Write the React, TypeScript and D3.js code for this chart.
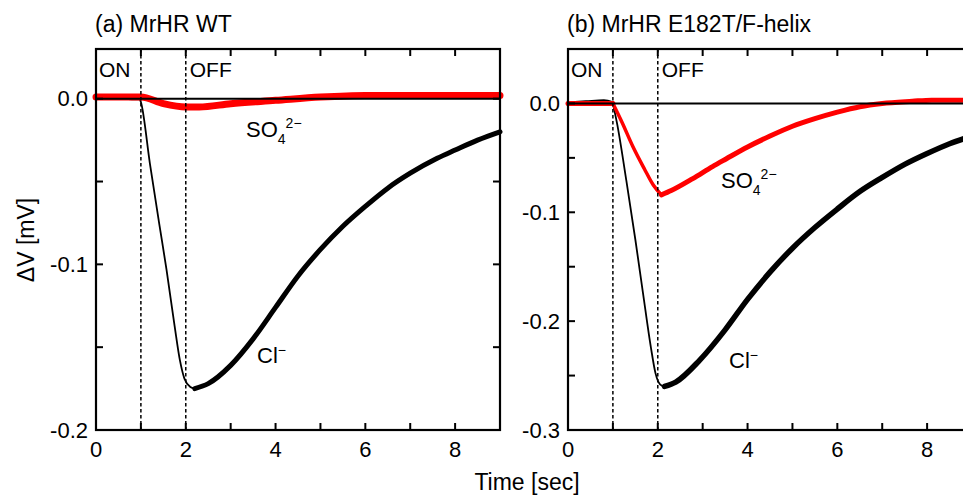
import React, { useEffect, useRef } from "react";
import * as d3 from "d3";

// time axis (sec)
const timeTicks = [0, 1, 2, 3, 4, 5, 6, 7, 8, 9];
const timeLabels = [0, 2, 4, 6, 8];
const stimulus = [1, 2]; // light ON / OFF

// (a) MrHR WT
const wtYTicks = [0, -0.05, -0.1, -0.15, -0.2];
const wtYLabels = [0, -0.1, -0.2];
const wtClBase = [[0, 0.0], [0.4, 0.001], [0.8, 0.0], [0.97, 0.0]];
const wtClFall = [[0.97, 0.0], [1.0, -0.002], [1.2, -0.039], [1.4, -0.074], [1.57, -0.103], [1.75, -0.137], [1.87, -0.158], [1.97, -0.169], [2.1, -0.174], [2.2, -0.175]];
const wtClRecovery = [[2.2, -0.175], [2.5, -0.172], [3.0, -0.161], [3.5, -0.145], [4.0, -0.126], [4.5, -0.107], [5.0, -0.091], [5.5, -0.077], [6.0, -0.065], [6.5, -0.054], [7.0, -0.045], [7.6, -0.036], [8.0, -0.031], [8.5, -0.025], [9.0, -0.020]];
const wtSO4 = [[0, 0.001], [0.5, 0.001], [1.0, 0.001], [1.5, -0.003], [2.0, -0.005], [2.3, -0.005], [3.0, -0.003], [4.0, -0.001], [5.0, 0.001], [6.0, 0.002], [7.0, 0.002], [8.0, 0.002], [9.0, 0.002]];

// (b) MrHR E182T/F-helix
const mutYTicks = [0, -0.05, -0.1, -0.15, -0.2, -0.25, -0.3];
const mutYLabels = [0, -0.1, -0.2, -0.3];
const mutClBase = [[0, 0.0], [0.4, 0.001], [0.8, 0.002], [1.0, 0.0]];
const mutClFall = [[1.0, 0.0], [1.1, -0.02], [1.3, -0.071], [1.5, -0.125], [1.67, -0.174], [1.85, -0.225], [1.95, -0.248], [2.05, -0.258], [2.15, -0.26]];
const mutClRecovery = [[2.15, -0.26], [2.4, -0.256], [2.93, -0.236], [3.5, -0.208], [4.0, -0.180], [4.5, -0.155], [5.0, -0.133], [5.5, -0.114], [6.0, -0.097], [6.5, -0.081], [7.0, -0.068], [7.5, -0.056], [8.0, -0.046], [8.5, -0.037], [9.0, -0.030]];
const mutSO4Base = [[0, 0.0], [0.5, 0.0], [1.0, 0.0]];
const mutSO4Fall = [[1.0, 0.0], [1.2, -0.017], [1.45, -0.040], [1.7, -0.060], [1.9, -0.075], [2.08, -0.084]];
const mutSO4Recovery = [[2.08, -0.084], [2.3, -0.080], [2.78, -0.069], [3.22, -0.058], [3.52, -0.051], [4.0, -0.040], [4.5, -0.030], [5.0, -0.021], [5.5, -0.014], [6.0, -0.008], [6.5, -0.003], [7.0, 0.000], [7.67, 0.002], [8.1, 0.003], [9.0, 0.003]];

const FONT = "Arial, 'Liberation Sans', Helvetica, sans-serif";

const drawPanel = (svg, p) => {
  const x = d3.scaleLinear().domain([0, 9]).range([p.left, p.left + 404]);
  const y = d3.scaleLinear().domain(p.yDomain).range([430, 49]);
  const g = svg.append("g");

  const line = d3
    .line()
    .x(d => x(d[0]))
    .y(d => y(d[1]))
    .curve(d3.curveMonotoneX);

  p.traces.forEach(t => {
    g.append("path")
      .datum(t.data)
      .attr("fill", "none")
      .attr("stroke", t.color)
      .attr("stroke-width", t.width)
      .attr("stroke-linejoin", "round")
      .attr("stroke-linecap", "round")
      .attr("d", line);
  });

  // zero line
  g.append("line")
    .attr("x1", x(0)).attr("x2", x(9))
    .attr("y1", y(0)).attr("y2", y(0))
    .attr("stroke", "#000").attr("stroke-width", 2);

  // stimulus markers
  g.selectAll(".stim")
    .data(stimulus)
    .enter()
    .append("line")
    .attr("x1", d => x(d)).attr("x2", d => x(d))
    .attr("y1", y.range()[1]).attr("y2", y.range()[0])
    .attr("stroke", "#000")
    .attr("stroke-width", 1.5)
    .attr("stroke-dasharray", "3.5,2.5");

  // ticks (inward, all four sides)
  const tl = 7;
  timeTicks.forEach(t => {
    g.append("line").attr("x1", x(t)).attr("x2", x(t)).attr("y1", 430).attr("y2", 430 - tl).attr("stroke", "#000").attr("stroke-width", 2);
    g.append("line").attr("x1", x(t)).attr("x2", x(t)).attr("y1", 49).attr("y2", 49 + tl).attr("stroke", "#000").attr("stroke-width", 2);
  });
  p.yTicks.forEach(v => {
    g.append("line").attr("x1", x(0)).attr("x2", x(0) + tl).attr("y1", y(v)).attr("y2", y(v)).attr("stroke", "#000").attr("stroke-width", 2);
    g.append("line").attr("x1", x(9)).attr("x2", x(9) - tl).attr("y1", y(v)).attr("y2", y(v)).attr("stroke", "#000").attr("stroke-width", 2);
  });

  // frame
  g.append("rect")
    .attr("x", x(0)).attr("y", 49)
    .attr("width", x(9) - x(0)).attr("height", 381)
    .attr("fill", "none").attr("stroke", "#000").attr("stroke-width", 2.2);

  // tick labels
  g.selectAll(".xl")
    .data(timeLabels)
    .enter()
    .append("text")
    .attr("x", d => x(d))
    .attr("y", 457)
    .attr("text-anchor", "middle")
    .attr("font-size", 22)
    .text(d => d);
  g.selectAll(".yl")
    .data(p.yLabels)
    .enter()
    .append("text")
    .attr("x", x(0) - 8)
    .attr("y", d => y(d) + 7.5)
    .attr("text-anchor", "end")
    .attr("font-size", 22)
    .text(d => d3.format(".1f")(d).replace("\u2212", "-"));

  // titles and annotations
  g.append("text").attr("x", x(0) - 1).attr("y", 32).attr("font-size", 23).text(p.title);
  g.append("text").attr("x", x(0) + 3).attr("y", 77).attr("font-size", 21).text("ON");
  g.append("text").attr("x", x(2) + 4).attr("y", 77).attr("font-size", 21).text("OFF");

  const so4 = g.append("text").attr("x", p.so4Pos[0]).attr("y", p.so4Pos[1]).attr("font-size", 22);
  so4.append("tspan").text("SO");
  so4.append("tspan").attr("font-size", 14).attr("dy", 7).text("4");
  so4.append("tspan").attr("font-size", 14).attr("dy", -16).text("2\u2212");

  const cl = g.append("text").attr("x", p.clPos[0]).attr("y", p.clPos[1]).attr("font-size", 22);
  cl.append("tspan").text("Cl");
  cl.append("tspan").attr("font-size", 14).attr("dy", -8).text("\u2212");
};

const buildChart = node => {
  d3.select(node).selectAll("*").remove();
  const svg = d3
    .select(node)
    .append("svg")
    .attr("width", 963)
    .attr("height", 496)
    .style("position", "absolute")
    .style("left", 0)
    .style("top", 0)
    .attr("font-family", FONT)
    .attr("fill", "#000");

  drawPanel(svg, {
    left: 96,
    yDomain: [-0.2, 0.03],
    yTicks: wtYTicks,
    yLabels: wtYLabels,
    title: "(a) MrHR WT",
    so4Pos: [246, 137],
    clPos: [257, 363],
    traces: [
      { data: wtClBase, color: "#000", width: 3 },
      { data: wtClFall, color: "#000", width: 1.8 },
      { data: wtClRecovery, color: "#000", width: 5 },
      { data: wtSO4, color: "#ff0000", width: 7 }
    ]
  });

  drawPanel(svg, {
    left: 568,
    yDomain: [-0.3, 0.05],
    yTicks: mutYTicks,
    yLabels: mutYLabels,
    title: "(b) MrHR E182T/F-helix",
    so4Pos: [721, 188],
    clPos: [729, 368],
    traces: [
      { data: mutClBase, color: "#000", width: 4 },
      { data: mutClFall, color: "#000", width: 1.8 },
      { data: mutClRecovery, color: "#000", width: 5.5 },
      { data: mutSO4Base, color: "#ff0000", width: 5 },
      { data: mutSO4Fall, color: "#ff0000", width: 3.5 },
      { data: mutSO4Recovery, color: "#ff0000", width: 5 }
    ]
  });

  svg.append("text")
    .attr("x", 527)
    .attr("y", 490)
    .attr("text-anchor", "middle")
    .attr("font-size", 23)
    .text("Time [sec]");

  svg.append("text")
    .attr("transform", "translate(34, 240) rotate(-90)")
    .attr("text-anchor", "middle")
    .attr("font-size", 23)
    .text("\u0394V [mV]");
};

function App() {
  const ref = useRef(null);
  useEffect(() => {
    buildChart(ref.current);
  }, []);
  return <div ref={ref}></div>;
}

export default App;
